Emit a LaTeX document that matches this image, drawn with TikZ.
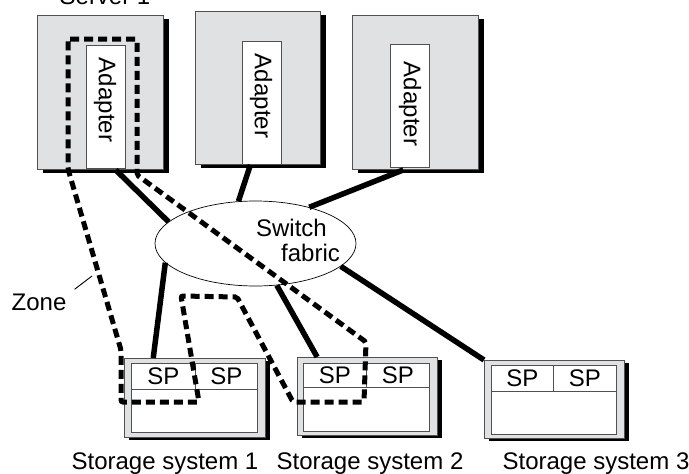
\documentclass[tikz,border=0pt]{standalone}
\usepackage{fontspec}
\setmainfont{Liberation Sans}
\usetikzlibrary{shapes.geometric,calc}
\definecolor{boxgray}{HTML}{E0E1E3}
\definecolor{edgegray}{HTML}{505050}
\begin{document}
\begin{tikzpicture}[x=1pt,y=-1pt,
  font=\fontsize{24}{28}\selectfont,
  server/.style={draw=edgegray, line width=0.9pt, fill=boxgray, anchor=north west, inner sep=0},
  adapterbox/.style={draw=edgegray, line width=0.9pt, fill=white, anchor=north west, inner sep=0},
  storage/.style={draw=edgegray, line width=0.9pt, fill=boxgray, anchor=north west, inner sep=0},
  cell/.style={draw=edgegray, line width=0.9pt, fill=white, anchor=north west, inner sep=0},
  shadowbox/.style={draw=none, fill=black, anchor=north west, inner sep=0},
  txt/.style={inner sep=0},
  link/.style={line width=5.5pt, black},
  zone/.style={line width=5pt, dash pattern=on 9pt off 5pt, black},
]
\fill[white] (0,0) rectangle (689,474);
\useasboundingbox (0,0) rectangle (689,474);
\clip (0,0) rectangle (689,474);

% servers
\node[txt, anchor=base] (s1lbl) at (105,4.5) {Server 1};
\node[shadowbox, minimum width=126, minimum height=154] (s1sh) at (43,19) {};
\node[shadowbox, minimum width=125, minimum height=153] (s2sh) at (201,15) {};
\node[shadowbox, minimum width=126, minimum height=154] (s3sh) at (358,19) {};
\node[server, minimum width=126, minimum height=154] (s1) at (37,15) {};
\node[server, minimum width=125, minimum height=153] (s2) at (195,11) {};
\node[server, minimum width=126, minimum height=154] (s3) at (352,15) {};
\node[adapterbox, minimum width=39, minimum height=123] (a1) at (86,45) {};
\node[adapterbox, minimum width=39, minimum height=123] (a2) at (242,41) {};
\node[adapterbox, minimum width=39, minimum height=123] (a3) at (390,44) {};
\node[txt, rotate=-90] (a1t) at (105,100) {Adapter};
\node[txt, rotate=-90] (a2t) at (261,96) {Adapter};
\node[txt, rotate=-90] (a3t) at (410,104) {Adapter};

% switch fabric
\node[ellipse, draw=black, line width=0.7pt, fill=white, minimum width=201, minimum height=85, inner sep=0] (sw) at (255.5,243.5) {};
\node[txt] (swt1) at (291.5,228) {Switch};
\node[txt] (swt2) at (310.5,252.5) {fabric};

% storage systems
\node[shadowbox, minimum width=141, minimum height=79] (ss1sh) at (129,361) {};
\node[shadowbox, minimum width=140, minimum height=78] (ss2sh) at (302,360) {};
\node[shadowbox, minimum width=140, minimum height=78] (ss3sh) at (489,363) {};

\node[storage, minimum width=141, minimum height=79] (ss1) at (124,358) {};
\node[cell, minimum width=64, minimum height=26] (ss1a) at (131,363) {SP};
\node[cell, minimum width=62, minimum height=26] (ss1b) at (195,363) {SP};
\node[cell, minimum width=126, minimum height=43] (ss1c) at (131,389) {};

\node[storage, minimum width=140, minimum height=78] (ss2) at (297,357) {};
\node[cell, minimum width=63, minimum height=24] (ss2a) at (303,363) {SP};
\node[cell, minimum width=63, minimum height=24] (ss2b) at (366,363) {SP};
\node[cell, minimum width=126, minimum height=44] (ss2c) at (303,387) {};

\node[storage, minimum width=140, minimum height=78] (ss3) at (484,360) {};
\node[cell, minimum width=62, minimum height=26] (ss3a) at (491,365) {SP};
\node[cell, minimum width=63, minimum height=26] (ss3b) at (553,365) {SP};
\node[cell, minimum width=125, minimum height=43] (ss3c) at (491,391) {};

\node[txt, anchor=base] (ss1l) at (165,469) {Storage system 1};
\node[txt, anchor=base] (ss2l) at (370,469) {Storage system 2};
\node[txt, anchor=base] (ss3l) at (596,469) {Storage system 3};

% links
\draw[link] ($(s1.south west)!0.62!(s1.south east)$) -- (sw.166.6);
\draw[link] ($(s2.south west)!0.44!(s2.south east)$) -- (sw.112.9);
\draw[link] ($(s3.south west)!0.405!(s3.south east)$) -- (sw.34.6);
\draw[link] (sw.192.2) -- ($(ss1.north west)!0.206!(ss1.north east)$);
\draw[link] (sw.297.4) -- ($(ss2.north west)!0.143!(ss2.north east)$);
\draw[link] (sw.345) -- (ss3.north west);

% zone
\draw[zone, rounded corners=2pt] (68,39) -- (137,39) -- (137,175) -- (366,342) -- (364,402)
  -- (293,402) -- (237,297) -- (181,296) -- (199,402) -- (121,402) -- (121,350) -- (68,169) -- cycle;
\node[txt, anchor=base] (zonelbl) at (39,310) {Zone};
\coordinate (zonetip) at (92,276);
\draw[line width=0.9pt] ($(zonelbl.north east)+(8,-4)$) -- (zonetip);
\end{tikzpicture}
\end{document}
